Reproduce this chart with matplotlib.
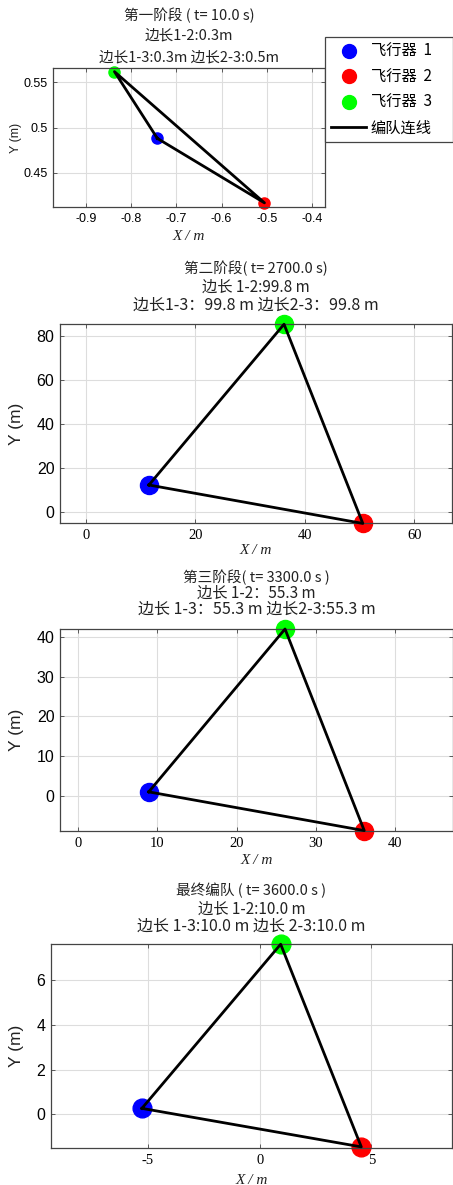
import matplotlib
matplotlib.use("Agg")
import matplotlib.pyplot as plt
from matplotlib.lines import Line2D

plt.rcParams['font.family'] = ['Noto Sans CJK SC', 'DejaVu Sans']

# ─────────────────────────────────────────────
# Data: positions of the three aircraft (1, 2, 3) per stage
# ─────────────────────────────────────────────
x_stage1 = [-0.742, -0.505, -0.837]
y_stage1 = [0.488, 0.4166, 0.562]
x_stage2 = [11.5, 50.6, 36.2]
y_stage2 = [12.2, -5.3, 85.4]
x_stage3 = [8.9, 36.1, 26.1]
y_stage3 = [1.1, -8.6, 41.9]
x_final = [-5.27, 4.55, 0.94]
y_final = [0.27, -1.45, 7.6]

titles = [
    ["第一阶段 ( t= 10.0 s)", "边长1-2:0.3m", "边长1-3:0.3m 边长2-3:0.5m"],
    ["第二阶段( t= 2700.0 s)", "边长 1-2:99.8 m", "边长1-3：99.8 m 边长2-3：99.8 m"],
    ["第三阶段( t= 3300.0 s )", "边长 1-2：55.3 m", "边长 1-3：55.3 m 边长2-3:55.3 m"],
    ["最终编队 ( t= 3600.0 s )", "边长 1-2:10.0 m", "边长 1-3:10.0 m 边长 2-3:10.0 m"],
]
xticks = [[-0.9, -0.8, -0.7, -0.6, -0.5, -0.4], [0, 20, 40, 60],
          [0, 10, 20, 30, 40], [-5, 0, 5]]
yticks = [[0.45, 0.5, 0.55], [0, 20, 40, 60, 80],
          [0, 10, 20, 30, 40], [0, 2, 4, 6]]
xlims = [(-0.973, -0.371), (-4.75, 66.9), (-2.3, 47.3), (-9.34, 8.61)]
ylims = [(0.412, 0.566), (-5.1, 85.5), (-8.7, 41.9), (-1.5, 7.61)]
names = ["飞行器  1", "飞行器  2", "飞行器  3"]
colors = ["#0000ff", "#ff0000", "#00ff00"]

W, H = 453, 1185
# axes boxes in pixels: left, top, right, bottom
boxes = [(53, 68, 325, 207), (60, 324, 452, 523),
         (60, 629, 453, 831), (51, 944, 452, 1148)]
title_y = [(15, 35, 57), (268, 287, 305), (577, 593, 609), (890, 909, 926)]
title_fs = [(10.5, 10.5, 10.5), (10.5, 11, 11.5), (10.5, 11, 11.5), (10.5, 11, 11.5)]
xlabel_y = [237, 550, 860, 1180]
msize = [8, 13, 13, 13.5]
tick_fs = [9, 11.5, 11.5, 11.5]
xtick_fs = [9, 10.5, 10.5, 10.5]

xs = [x_stage1, x_stage2, x_stage3, x_final]
ys = [y_stage1, y_stage2, y_stage3, y_final]

fig = plt.figure(figsize=(W / 100, H / 100), dpi=100)

for k in range(4):
    l, t, r, b = boxes[k]
    ax = fig.add_axes([l / W, 1 - b / H, (r - l) / W, (b - t) / H])
    x, y = xs[k], ys[k]
    for i in range(3):
        ax.plot(x[i], y[i], "o", color=colors[i], ms=msize[k], zorder=2, clip_on=False)
    # formation lines 1-2, 2-3, 3-1
    ax.plot(x + [x[0]], y + [y[0]], "-", color="black", lw=2, zorder=3, clip_on=False)
    ax.set_xlim(*xlims[k])
    ax.set_ylim(*ylims[k])
    ax.set_xticks(xticks[k])
    ax.set_yticks(yticks[k])
    xfam = "Liberation Sans" if k == 0 else "Liberation Serif"
    ax.set_xticklabels([f"{v:g}" for v in xticks[k]], family=xfam, fontsize=xtick_fs[k])
    ax.set_yticklabels([f"{v:g}" for v in yticks[k]], family="Liberation Sans",
                       fontsize=tick_fs[k])
    ax.tick_params(direction="in", top=True, right=True, length=3, width=0.6,
                   color="#444444", pad=4)
    ax.grid(True, color="#dddddd", lw=0.8)
    for s in ax.spines.values():
        s.set_color("#444444")
        s.set_linewidth(0.9)

    cx = (l + r) / 2 / W
    for line, ty, fs in zip(titles[k], title_y[k], title_fs[k]):
        fig.text(cx, 1 - ty / H, line, ha="center", va="center", fontsize=fs,
                 color="#222222")
    fig.text(cx, 1 - xlabel_y[k] / H, "X / m", ha="center", va="center",
             family="Liberation Serif", style="italic", fontsize=11, color="#222222")
    fig.text(16 / W, 1 - (t + b) / 2 / H, "Y (m)", rotation=90, ha="center",
             va="center", family="Liberation Sans",
             fontsize=9 if k == 0 else 12.5, color="#222222")

handles = [Line2D([], [], marker="o", ls="none", color=c, ms=10) for c in colors]
handles.append(Line2D([], [], color="black", lw=2))
leg = fig.legend(handles, names + ["编队连线"], loc="upper left",
                 bbox_to_anchor=(325 / W, 1 - 143 / H, 128 / W, 106 / H),
                 mode="expand", borderaxespad=0,
                 fontsize=11, fancybox=False, framealpha=1, edgecolor="#444444",
                 handlelength=2.3, handletextpad=0.3, borderpad=0.4,
                 labelspacing=0.55)
leg.get_frame().set_linewidth(0.9)

fig.savefig("out.png", dpi=100)
